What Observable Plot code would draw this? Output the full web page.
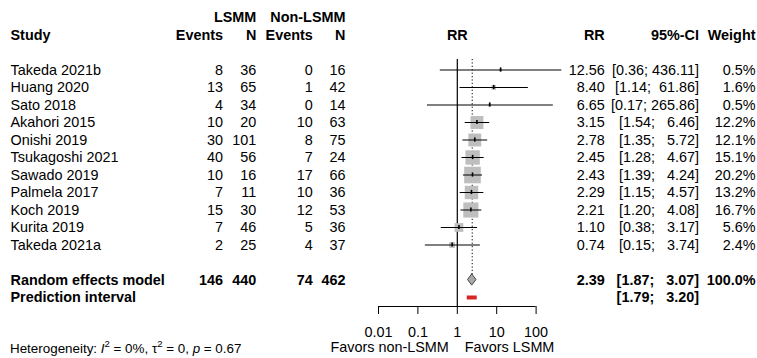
<!DOCTYPE html>
<html><head><meta charset="utf-8">
<script src="https://cdn.jsdelivr.net/npm/d3@7"></script>
<script src="https://cdn.jsdelivr.net/npm/@observablehq/plot@0.6"></script>
<style>
body{margin:0;background:#fff;}
svg text{white-space:pre;}
</style></head><body><div id="chart"></div>
<script>
const studies = ["Takeda 2021b","Huang 2020","Sato 2018","Akahori 2015","Onishi 2019","Tsukagoshi 2021","Sawado 2019","Palmela 2017","Koch 2019","Kurita 2019","Takeda 2021a"];
const eventsLSMM = [8,13,4,10,30,40,10,7,15,7,2];
const totalLSMM = [36,65,34,20,101,56,16,11,30,46,25];
const eventsNonLSMM = [0,1,0,10,8,7,17,10,12,5,4];
const totalNonLSMM = [16,42,14,63,75,24,66,36,53,36,37];
const rr = [12.56,8.40,6.65,3.15,2.78,2.45,2.43,2.29,2.21,1.10,0.74];
const ciLower = [0.36,1.14,0.17,1.54,1.35,1.28,1.39,1.15,1.20,0.38,0.15];
const ciUpper = [436.11,61.86,265.86,6.46,5.72,4.67,4.24,4.57,4.08,3.17,3.74];
const weights = [0.5,1.6,0.5,12.2,12.1,15.1,20.2,13.2,16.7,5.6,2.4];
const pooledTotals = [146,440,74,462];
const pooledEstimate = [2.39,1.87,3.07]; // RR, lower, upper
const predictionInterval = [1.79,3.20];
const axisTicks = [0.01,0.1,1,10,100];
const sideLabels = ["Favors non-LSMM","Favors LSMM"];
const groupLabels = ["LSMM","Non-LSMM"];
const headerLabels = ["Study","Events","N","Events","N","RR","95%-CI","Weight"];
const heterogeneity = {I2:"0%", tau2:"0", p:"0.67"};

const W = 757, H = 358, L = 378, R = 535.6;
const FONT = "14.4px";
const ciW = d3.max([...ciUpper, pooledEstimate[2], predictionInterval[1]], v => v.toFixed(2).length);
const fmtCI = (lo, hi) => "[" + lo.toFixed(2) + "; " + hi.toFixed(2).padStart(ciW) + "]";

const rows = studies.map((s, i) => ({
  row: 3 + i, study: s, eL: eventsLSMM[i], nL: totalLSMM[i], eN: eventsNonLSMM[i], nN: totalNonLSMM[i],
  rrv: rr[i], lo: ciLower[i], hi: ciUpper[i], w: weights[i],
  rr: rr[i].toFixed(2), ci: fmtCI(ciLower[i], ciUpper[i]), wt: weights[i].toFixed(1) + "%"
}));
const boldRows = [
  {row: 15, study: "Random effects model", eL: pooledTotals[0], nL: pooledTotals[1], eN: pooledTotals[2], nN: pooledTotals[3],
   rr: pooledEstimate[0].toFixed(2), ci: fmtCI(pooledEstimate[1], pooledEstimate[2]), wt: "100.0%"},
  {row: 16, study: "Prediction interval", ci: fmtCI(predictionInterval[0], predictionInterval[1])}
];
const headerRow = [{row: 1, study: headerLabels[0], eL: headerLabels[1], nL: headerLabels[2], eN: headerLabels[3], nN: headerLabels[4], rr: headerLabels[5], ci: headerLabels[6], wt: headerLabels[7]}];
const groupRow = [{row: 0, nL: groupLabels[0], nN: groupLabels[1]}];

const colX = {study: 10, eL: 222.5, nL: 255.8, eN: 312.3, nN: 345, rr: 604.2, ci: 698.5, wt: 755};
function cols(data, bold) {
  return Object.keys(colX).map(k => Plot.text(data.filter(d => d[k] !== undefined), {
    y: "row", text: k, frameAnchor: "left", dx: colX[k] - L,
    textAnchor: k === "study" ? "start" : "end", fontWeight: bold ? "bold" : "normal", fill: "#000"
  }));
}

const diamond = [
  {y: 15 - 0.32, x1: pooledEstimate[0], x2: pooledEstimate[0]},
  {y: 15, x1: pooledEstimate[1], x2: pooledEstimate[2]},
  {y: 15 + 0.32, x1: pooledEstimate[0], x2: pooledEstimate[0]}
];
const axisRow = (306 - 17) / 17.5; // bottom of the forest panel, in row units

const chart = Plot.plot({
  width: W, height: H,
  marginLeft: L, marginRight: W - R, marginTop: 59, marginBottom: 52,
  style: {fontFamily: "'Liberation Sans', Arial, Helvetica, sans-serif", fontSize: FONT, background: "#fff", color: "#000"},
  x: {type: "log", domain: [0.01, 100], range: [L, R], axis: null},
  y: {type: "linear", domain: [0, 16], range: [17, 297], axis: null},
  r: {type: "sqrt", domain: [0, 100], range: [0, 37 / Math.sqrt(Math.PI)]},
  marks: [
    Plot.axisX(axisTicks, {anchor: "bottom", tickSize: 8, tickPadding: 12.5, tickFormat: d => String(d), label: null, stroke: "#000", fill: "#000"}),
    Plot.ruleY([axisRow], {x1: axisTicks[0], x2: axisTicks[axisTicks.length - 1], stroke: "#000"}),
    Plot.ruleX([1], {stroke: "#000", strokeWidth: 1.2}),
    Plot.ruleX([pooledEstimate[0]], {y1: 2.4, y2: 15, stroke: "#000", strokeDasharray: "1.2,2.2"}),
    Plot.dot(rows, {x: "rrv", y: "row", r: "w", symbol: "square", fill: "#bebebe", stroke: null}),
    Plot.link(rows, {x1: "lo", x2: "hi", y1: "row", y2: "row", stroke: "#000", strokeWidth: 1}),
    Plot.ruleX(rows, {x: "rrv", y1: d => d.row - 0.12, y2: d => d.row + 0.12, stroke: "#000", strokeWidth: 1.6}),
    Plot.areaX(diamond, {y: "y", x1: "x1", x2: "x2", fill: "#a9a9a9", stroke: "#444", strokeWidth: 1}),
    Plot.ruleY([{row: 16, lo: predictionInterval[0], hi: predictionInterval[1]}], {y: "row", x1: "lo", x2: "hi", stroke: "#d92424", strokeWidth: 4}),
    Plot.text([{x: 1, t: "RR"}], {x: "x", y: () => 1, text: "t", fontWeight: "bold", fill: "#000"}),
    Plot.text([{x: 1, t: sideLabels[0]}], {x: "x", text: "t", frameAnchor: "bottom", dy: 45, dx: -8.5, textAnchor: "end", fill: "#000"}),
    Plot.text([{x: 1, t: sideLabels[1]}], {x: "x", text: "t", frameAnchor: "bottom", dy: 45, dx: 7.5, textAnchor: "start", fill: "#000"}),
    ...cols(groupRow, true),
    ...cols(headerRow, true),
    ...cols(rows, false),
    ...cols(boldRows, true)
  ]
});
document.getElementById("chart").appendChild(chart);

const svg = d3.select(chart);
const t = svg.append("text").attr("x", 10).attr("y", 353).attr("font-size", "13.4px").attr("fill", "#000").attr("text-anchor", "start");
t.append("tspan").text("Heterogeneity: ");
t.append("tspan").attr("font-style", "italic").text("I");
t.append("tspan").attr("font-size", "9.5px").attr("dy", -6).text("2");
t.append("tspan").attr("dy", 6).text(" = " + heterogeneity.I2 + ", τ");
t.append("tspan").attr("font-size", "9.5px").attr("dy", -6).text("2");
t.append("tspan").attr("dy", 6).text(" = " + heterogeneity.tau2 + ", ");
t.append("tspan").attr("font-style", "italic").text("p");
t.append("tspan").text(" = " + heterogeneity.p);
</script></body></html>
